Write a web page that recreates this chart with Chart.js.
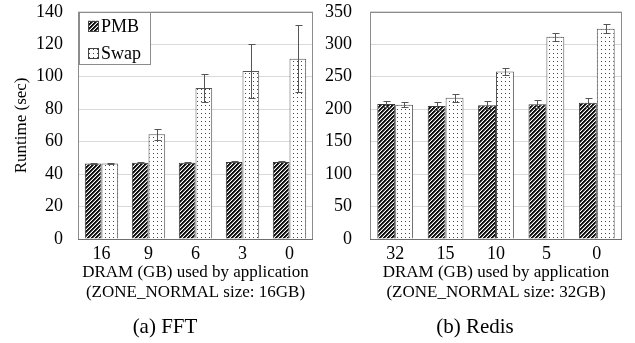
<!DOCTYPE html>
<html>
<head>
<meta charset="utf-8">
<script src="https://cdn.jsdelivr.net/npm/chart.js@4.4.1/dist/chart.umd.min.js"></script>
<style>
  html, body { margin:0; padding:0; background:#fff; }
  #wrap { position:relative; width:635px; height:343px; overflow:hidden; }
  canvas { position:absolute; top:0; }
</style>
</head>
<body>
<div id="wrap">
  <canvas id="c1" width="320" height="343" style="left:0;width:320px;height:343px"></canvas>
  <canvas id="c2" width="315" height="343" style="left:320px;width:315px;height:343px"></canvas>
</div>
<script>
// ---- data ----
const seriesNames = ['PMB', 'Swap'];

const fftCategories = ['16', '9', '6', '3', '0'];
const fftPMB = [46.5, 47, 47, 47.5, 47.5];
const fftPMBErr = [0.3, 0.3, 0.3, 0.3, 0.3];
const fftSwap = [46.5, 64.5, 93, 103.5, 111];
const fftSwapErr = [0.3, 3.5, 8.7, 16.7, 20.6];
const fftYTicks = [0, 20, 40, 60, 80, 100, 120, 140];

const redisCategories = ['32', '15', '10', '5', '0'];
const redisPMB = [208, 205, 206, 207.5, 210];
const redisPMBErr = [4.5, 6, 6, 6, 6.5];
const redisSwap = [207, 217.5, 258, 311.5, 324];
const redisSwapErr = [4, 6, 6, 6, 7];
const redisYTicks = [0, 50, 100, 150, 200, 250, 300, 350];

const yTitle = 'Runtime (sec)';
const xTitleFFT = ['DRAM (GB) used by application', '(ZONE_NORMAL size: 16GB)'];
const xTitleRedis = ['DRAM (GB) used by application', '(ZONE_NORMAL size: 32GB)'];
const captionFFT = '(a) FFT';
const captionRedis = '(b) Redis';

// ---- patterns ----
const FONT = '"Liberation Serif", "Times New Roman", serif';
function makePattern(kind) {
  const c = document.createElement('canvas');
  c.width = 4; c.height = 4;
  const g = c.getContext('2d');
  const img = g.createImageData(4, 4);
  for (let y = 0; y < 4; y++) {
    for (let x = 0; x < 4; x++) {
      let v = 255;
      if (kind === 'hatch') {
        const d = (x + y) % 4;
        v = (d === 0 || d === 1) ? 15 : (d === 2 ? 110 : 255);
      } else {
        v = (x === 1 && y === 1) ? 70 : 255;
      }
      const i = (y * 4 + x) * 4;
      img.data[i] = v; img.data[i+1] = v; img.data[i+2] = v; img.data[i+3] = 255;
    }
  }
  g.putImageData(img, 0, 0);
  const ctx = document.createElement('canvas').getContext('2d');
  return ctx.createPattern(c, 'repeat');
}
const hatch = makePattern('hatch');
const dots = makePattern('dots');

// ---- plugins ----
const frame = {
  id: 'frame',
  afterDatasetsDraw(chart) {
    const a = chart.chartArea, ctx = chart.ctx;
    ctx.save();
    ctx.strokeStyle = '#8c8c8c';
    ctx.lineWidth = 1;
    ctx.strokeRect(Math.round(a.left) + 0.5, Math.round(a.top) + 0.5,
                   Math.round(a.right - a.left) - 1, Math.round(a.bottom - a.top));
    ctx.strokeStyle = '#6e6e6e';
    ctx.beginPath();
    ctx.moveTo(a.left, Math.round(a.bottom) + 0.5);
    ctx.lineTo(a.right, Math.round(a.bottom) + 0.5);
    ctx.stroke();
    ctx.restore();
  }
};

const errorBars = {
  id: 'errorBars',
  afterDatasetsDraw(chart) {
    const ctx = chart.ctx, ys = chart.scales.y;
    ctx.save();
    ctx.strokeStyle = '#555';
    ctx.lineWidth = 1;
    chart.data.datasets.forEach((ds, di) => {
      const meta = chart.getDatasetMeta(di);
      meta.data.forEach((bar, i) => {
        const e = ds.errors[i];
        if (!e) return;
        const x = Math.round(bar.x) + 0.5;
        const yt = Math.round(ys.getPixelForValue(ds.data[i] + e)) + 0.5;
        const yb = Math.round(ys.getPixelForValue(ds.data[i] - e)) + 0.5;
        ctx.beginPath();
        ctx.moveTo(x, yt); ctx.lineTo(x, yb);
        ctx.moveTo(x - 3, yt); ctx.lineTo(x + 4, yt);
        ctx.moveTo(x - 3, yb); ctx.lineTo(x + 4, yb);
        ctx.stroke();
      });
    });
    ctx.restore();
  }
};

const boxLegend = {
  id: 'boxLegend',
  afterDraw(chart, args, opts) {
    if (!opts.show) return;
    const ctx = chart.ctx, a = chart.chartArea;
    const L = a.left + 1, T = a.top;
    ctx.save();
    ctx.fillStyle = '#fff';
    ctx.fillRect(L, T, 72, 53);
    ctx.strokeStyle = '#8c8c8c';
    ctx.lineWidth = 1;
    ctx.strokeRect(Math.round(L) + 0.5, Math.round(T) + 0.5, 71, 52);
    ctx.font = '18px ' + FONT;
    ctx.textBaseline = 'middle';
    chart.data.datasets.forEach((ds, i) => {
      const cy = T + 14 + i * 27;
      ctx.fillStyle = ds.backgroundColor;
      ctx.fillRect(L + 9, cy - 5, 11, 11);
      ctx.strokeStyle = '#444';
      ctx.strokeRect(Math.round(L + 9) + 0.5, Math.round(cy - 5) + 0.5, 10, 10);
      ctx.fillStyle = '#000';
      ctx.fillText(ds.label, L + 22, cy + 1);
    });
    ctx.restore();
  }
};

const caption = {
  id: 'caption',
  afterDraw(chart, args, opts) {
    const ctx = chart.ctx;
    ctx.save();
    ctx.font = '21px ' + FONT;
    ctx.fillStyle = '#000';
    ctx.textAlign = 'center';
    ctx.textBaseline = 'middle';
    ctx.fillText(opts.text, opts.x, opts.y);
    ctx.restore();
  }
};

function makeChart(id, cats, pmb, pmbErr, swap, swapErr, yTicks, xTitle, captionText, captionX, yAxisWidth, yTickGap, padRight, showYTitle, showLegend) {
  return new Chart(document.getElementById(id), {
    type: 'bar',
    data: {
      labels: cats,
      datasets: [
        { label: seriesNames[0], data: pmb, errors: pmbErr, backgroundColor: hatch, borderColor: '#3a3a3a', borderWidth: 1, borderSkipped: 'bottom' },
        { label: seriesNames[1], data: swap, errors: swapErr, backgroundColor: dots, borderColor: '#555', borderWidth: 1, borderSkipped: 'bottom' }
      ]
    },
    options: {
      responsive: false,
      animation: false,
      devicePixelRatio: 1,
      layout: { padding: { top: 0, right: padRight, left: 0, bottom: 0 } },
      datasets: { bar: { categoryPercentage: 0.71, barPercentage: 1.0 } },
      plugins: {
        legend: { display: false },
        tooltip: { enabled: false },
        title: { display: false },
        boxLegend: { show: showLegend },
        caption: { text: captionText, x: captionX, y: 327.5 }
      },
      scales: {
        x: {
          grid: { display: false, drawTicks: false },
          border: { display: false },
          ticks: { color: '#000', font: { family: FONT, size: 18 }, padding: 4, maxRotation: 0 },
          title: { display: true, text: xTitle, color: '#000', font: { family: FONT, size: 17, lineHeight: 1.18 }, padding: { top: 0, bottom: 40 } },
          afterFit(s) { s.height = 104; }
        },
        y: {
          min: yTicks[0], max: yTicks[yTicks.length - 1],
          afterBuildTicks(s) { s.ticks = yTicks.map(v => ({ value: v })); },
          grid: { color: '#d9d9d9', drawTicks: true, tickLength: yTickGap, tickColor: 'rgba(0,0,0,0)' },
          border: { display: false },
          ticks: { color: '#000', font: { family: FONT, size: 18 }, padding: 1 },
          title: { display: showYTitle, text: yTitle, color: '#000', font: { family: FONT, size: 17, lineHeight: 1.2 }, padding: { top: 11, bottom: 0 } },
          afterFit(s) { s.width = yAxisWidth; }
        }
      }
    },
    plugins: [frame, errorBars, boxLegend, caption]
  });
}

makeChart('c1', fftCategories, fftPMB, fftPMBErr, fftSwap, fftSwapErr, fftYTicks, xTitleFFT, captionFFT, 165, 78, 14, 7, true, true);
makeChart('c2', redisCategories, redisPMB, redisPMBErr, redisSwap, redisSwapErr, redisYTicks, xTitleRedis, captionRedis, 155, 50, 17, 13, false, false);
</script>
</body>
</html>
